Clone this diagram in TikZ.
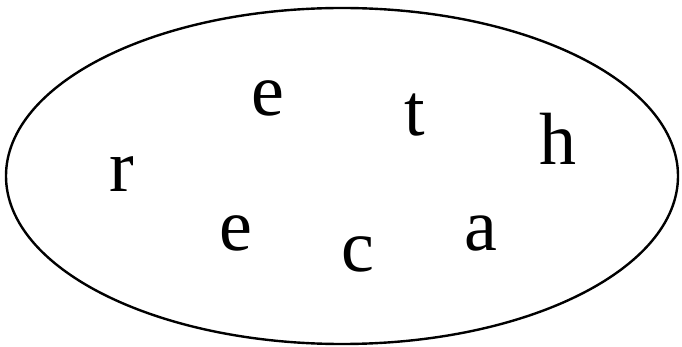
\documentclass[tikz,border=0pt]{standalone}
\usepackage{fontspec}
\setmainfont{Liberation Serif}
\begin{document}
\begin{tikzpicture}[x=1pt,y=1pt,
  letter/.style={anchor=base,inner sep=0pt,font=\fontsize{74}{80}\selectfont}]
\useasboundingbox (0,0) rectangle (682,-347);
\draw[line width=2.4pt] (342,-176) ellipse [x radius=336, y radius=168];
\node[letter] (e1) at (267.5,-116) {e};
\node[letter] (t)  at (414.5,-136) {t};
\node[letter] (h)  at (558,-165) {h};
\node[letter] (r)  at (122,-192) {r};
\node[letter] (e2) at (235.5,-251) {e};
\node[letter] (c)  at (357.5,-271) {c};
\node[letter] (a)  at (481,-251) {a};
\end{tikzpicture}
\end{document}
